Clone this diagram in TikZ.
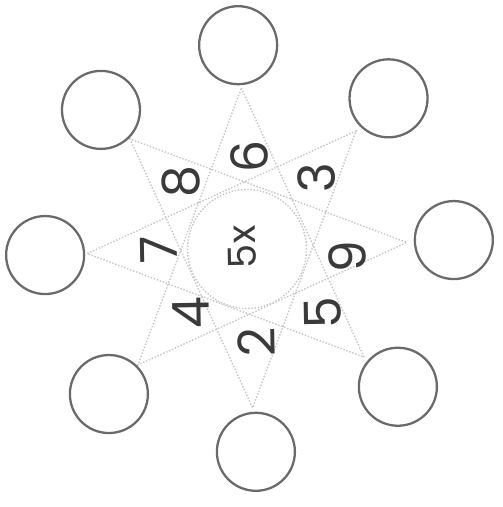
\documentclass[tikz,border=0pt]{standalone}
\usepackage{fontspec}
\setmainfont{Poppins}
\definecolor{cInk}{HTML}{3A3A3A}
\definecolor{cRing}{HTML}{6A6A6A}
\definecolor{cStar}{HTML}{C4C4CA}
\tikzset{
  ring/.style     = {circle, draw=cRing, line width=1.3pt, minimum size=1.56cm, inner sep=0pt},
  hub/.style      = {circle, draw=cStar, densely dotted, line width=0.8pt, fill=white,
                     minimum size=2.38cm, inner sep=0pt},
  fac/.style      = {text=cInk, font=\fontsize{29}{29}\selectfont, rotate=91, inner sep=0pt},
  prod/.style     = {fac, font=\fontsize{22}{22}\selectfont},
  starline/.style = {cStar, line width=0.8pt, densely dotted},
}

\begin{document}
\begin{tikzpicture}
  \useasboundingbox (-4.94,-5.18) rectangle (5.10,4.96);
  % star tips
  \foreach \k in {0,...,7}
    \coordinate (tip\k) at ({92-45*\k}:3.2);
  % octagram through every third tip
  \draw[starline] (tip0) -- (tip3) -- (tip6) -- (tip1) -- (tip4) -- (tip7) -- (tip2) -- (tip5) -- cycle;
  % answer rings
  \foreach \a/\r [count=\i] in {92.5/4.06, 46.6/4.12, 2.2/4.14, -42.6/4.10,
                                -87.5/4.08, -133.4/4.02, 182/4.04, 136.6/4.02}
    \node[ring] (ans\i) at (\a:\r) {};
  % centre
  \node[hub] (hub) at (0,-0.02) {};
  \node[prod] (times) at (-0.1,0.02) {5x};
  % factors
  \foreach \a/\r/\d in {88.7/1.82/6, 45/1.98/3, -5/2.02/9, -40.5/2.0/5,
                        -84/1.89/2, -130.7/1.72/4, 181/1.76/7, 135/1.86/8}
    \node[fac] (fac\d) at (\a:\r) {\d};
\end{tikzpicture}
\end{document}
